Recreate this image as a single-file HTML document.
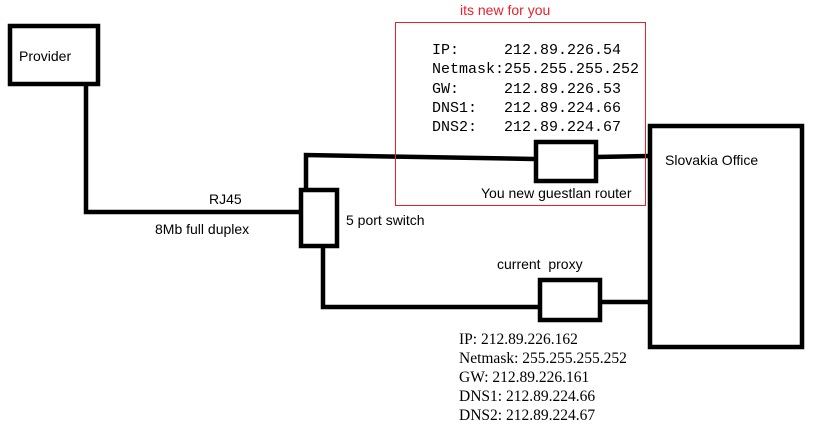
<!DOCTYPE html>
<html><head><style>
body{margin:0;width:816px;height:429px;background:#fff;overflow:hidden;position:relative}
.t{position:absolute;font-family:"Liberation Sans",sans-serif;font-size:14px;color:#000;white-space:nowrap}
.m{position:absolute;font-family:"Liberation Mono",monospace;font-size:15px;line-height:19.3px;white-space:pre;color:#000}
.s{position:absolute;font-family:"Liberation Serif",serif;font-size:15.5px;line-height:19px;white-space:pre;color:#000}
</style></head><body>
<svg width="816" height="429" style="position:absolute;left:0;top:0">
<g fill="none" stroke="#000" stroke-width="4.5">
<rect x="10" y="26" width="88" height="58"/>
<rect x="301" y="190" width="36" height="56"/>
<rect x="536" y="142" width="60" height="39"/>
<rect x="540" y="280" width="60" height="40"/>
<rect x="650" y="126" width="152" height="221"/>
<polyline points="86,84 86,212 303,212"/>
<polyline points="306,190 306,155 420,157 534,159"/>
<line x1="596" y1="157" x2="650" y2="156"/>
<polyline points="323,246 323,307 538,307"/>
<line x1="600" y1="302" x2="650" y2="302"/>
</g>
<rect x="395.5" y="22.5" width="250" height="183" fill="none" stroke="#e8202a" stroke-width="1"/>
</svg>
<div class="t" style="left:19px;top:48px">Provider</div>
<div class="t" style="left:209px;top:191px">RJ45</div>
<div class="t" style="left:155px;top:221px">8Mb full duplex</div>
<div class="t" style="left:346px;top:212px">5 port switch</div>
<div class="t" style="left:460px;top:2px;color:#e8202a">its new for you</div>
<div class="m" style="left:432px;top:41px">IP:     212.89.226.54
Netmask:255.255.255.252
GW:     212.89.226.53
DNS1:   212.89.224.66
DNS2:   212.89.224.67</div>
<div class="t" style="left:481px;top:185px">You new guestlan router</div>
<div class="t" style="left:665px;top:152px">Slovakia Office</div>
<div class="t" style="left:497px;top:256px">current&nbsp; proxy</div>
<div class="s" style="left:459px;top:330px">IP: 212.89.226.162
Netmask: 255.255.255.252
GW: 212.89.226.161
DNS1: 212.89.224.66
DNS2: 212.89.224.67</div>
</body></html>
